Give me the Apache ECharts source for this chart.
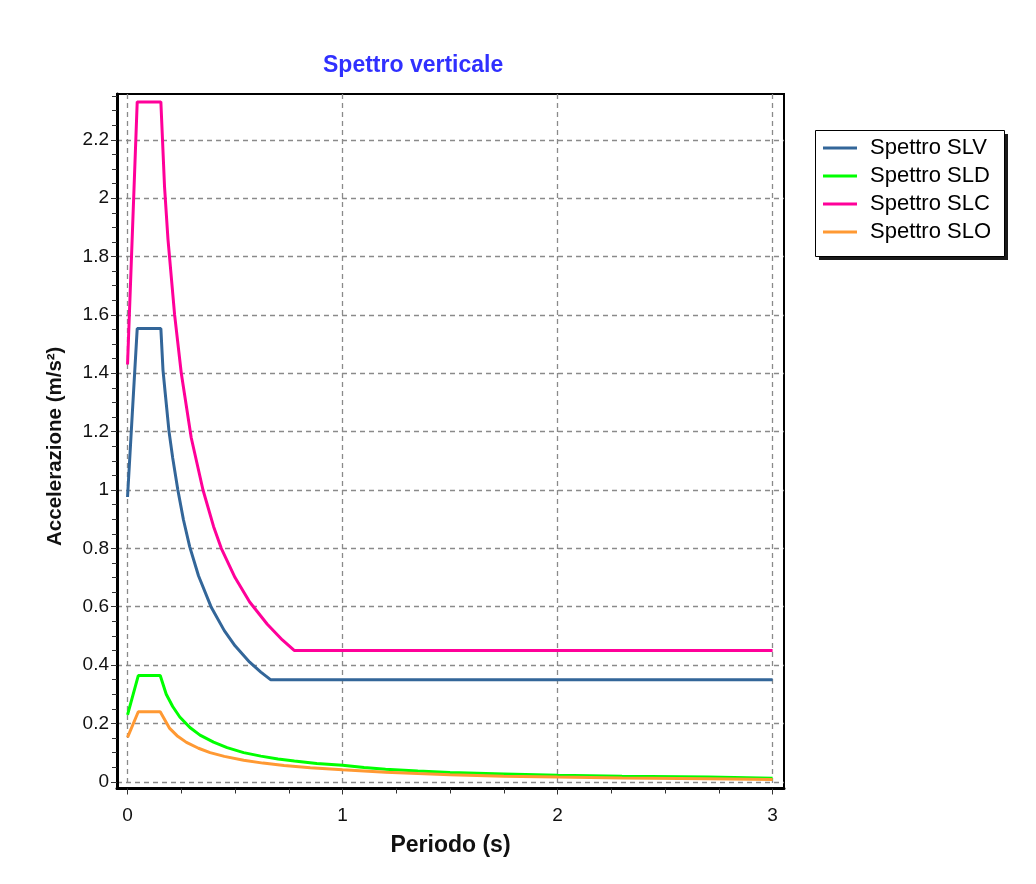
<!DOCTYPE html>
<html>
<head>
<meta charset="utf-8">
<script src="https://cdn.jsdelivr.net/npm/echarts@6/dist/echarts.min.js"></script>
<style>
html,body{margin:0;padding:0;background:#fff;}
#chart{width:1036px;height:884px;}
</style>
</head>
<body>
<div id="chart"></div>
<script>
// ---- data ----
const seriesNames = ['Spettro SLV', 'Spettro SLD', 'Spettro SLC', 'Spettro SLO'];

const slvT = [0, 0.022, 0.045, 0.155, 0.165, 0.175, 0.193, 0.21, 0.234, 0.26, 0.289, 0.33, 0.39, 0.45, 0.5, 0.568, 0.62, 0.665, 1.0, 2.0, 3.0];
const slvA = [0.976, 1.26, 1.553, 1.553, 1.41, 1.334, 1.20, 1.11, 1.0, 0.898, 0.806, 0.706, 0.597, 0.518, 0.466, 0.41, 0.376, 0.35, 0.35, 0.35, 0.35];

const sldT = [0, 0.05, 0.152, 0.18, 0.21, 0.243, 0.29, 0.337, 0.4, 0.463, 0.54, 0.62, 0.7, 0.776, 0.88, 1.0, 1.1, 1.2, 1.35, 1.5, 1.75, 2.0, 2.3, 2.7, 3.0];
const sldA = [0.229, 0.364, 0.364, 0.30, 0.258, 0.222, 0.186, 0.160, 0.136, 0.117, 0.10, 0.088, 0.078, 0.071, 0.063, 0.057, 0.049, 0.043, 0.037, 0.032, 0.027, 0.022, 0.019, 0.016, 0.012];

const slcT = [0, 0.045, 0.155, 0.172, 0.188, 0.219, 0.25, 0.296, 0.351, 0.4, 0.436, 0.5, 0.568, 0.65, 0.72, 0.775, 1.0, 2.0, 3.0];
const slcA = [1.43, 2.33, 2.33, 2.04, 1.86, 1.6, 1.4, 1.18, 1.0, 0.875, 0.80, 0.70, 0.616, 0.54, 0.486, 0.45, 0.45, 0.45, 0.45];

const sloT = [0, 0.05, 0.152, 0.196, 0.23, 0.274, 0.33, 0.384, 0.45, 0.54, 0.63, 0.728, 0.85, 1.0, 1.1, 1.2, 1.35, 1.5, 1.75, 2.0, 2.3, 2.7, 3.0];
const sloA = [0.152, 0.24, 0.24, 0.183, 0.158, 0.135, 0.115, 0.100, 0.087, 0.074, 0.064, 0.056, 0.048, 0.041, 0.037, 0.033, 0.028, 0.024, 0.019, 0.016, 0.013, 0.010, 0.008];

const xMajorTicks = [0, 1, 2, 3];
const xMinorTicks = [0.25, 0.5, 0.75, 1.25, 1.5, 1.75, 2.25, 2.5, 2.75];
const yMajorTicks = [0, 0.2, 0.4, 0.6, 0.8, 1, 1.2, 1.4, 1.6, 1.8, 2, 2.2];
const yMinorTicks = [0.05, 0.1, 0.15, 0.25, 0.3, 0.35, 0.45, 0.5, 0.55, 0.65, 0.7, 0.75, 0.85, 0.9, 0.95,
  1.05, 1.1, 1.15, 1.25, 1.3, 1.35, 1.45, 1.5, 1.55, 1.65, 1.7, 1.75, 1.85, 1.9, 1.95, 2.05, 2.1, 2.15, 2.25, 2.3, 2.35];

const colors = ['#336699', '#00ff00', '#ff0099', '#ff9933'];

// ---- chart ----
function pairs(t, a) { return t.map((v, i) => [v, a[i]]); }
const FONT = '"Liberation Sans", Arial, sans-serif';
const xMin = -0.049, xMax = 3.053, yMin = -0.023, yMax = 2.357;
const gridLine = { show: true, lineStyle: { color: '#8a8a8a', width: 1.3, type: [5, 4] } };

const chart = echarts.init(document.getElementById('chart'), null, { renderer: 'canvas' });
chart.setOption({
  animation: false,
  backgroundColor: '#fff',
  color: colors,
  title: {
    text: 'Spettro verticale',
    left: 323, top: 54, padding: 0,
    textStyle: { color: '#3030ff', fontSize: 23, fontWeight: 'bold', fontFamily: FONT }
  },
  graphic: [
    { type: 'rect', z: 0, shape: { x: 819, y: 134, width: 189, height: 126 }, style: { fill: '#1a1a1a' } },
    { type: 'rect', z: 1, shape: { x: 815.5, y: 130.5, width: 189, height: 126 }, style: { fill: '#fff', stroke: '#000', lineWidth: 1 } }
  ],
  legend: {
    orient: 'vertical', left: 823, top: 137, z: 10,
    padding: 0,
    itemWidth: 34, itemHeight: 3, itemGap: 6, icon: 'rect',
    textStyle: { fontSize: 22, color: '#000', fontFamily: FONT, lineHeight: 22, padding: [0, 0, 0, 8] },
    data: seriesNames
  },
  grid: {
    left: 117, top: 94, width: 667, height: 694.5,
    show: true, borderColor: '#000', borderWidth: 2, backgroundColor: '#fff'
  },
  xAxis: [
    {
      type: 'value', min: xMin, max: xMax, position: 'bottom',
      name: 'Periodo (s)', nameLocation: 'middle', nameGap: 46,
      nameTextStyle: { fontSize: 23, fontWeight: 'bold', color: '#111', fontFamily: FONT },
      axisLine: { show: true, onZero: false, lineStyle: { color: '#000', width: 3 } },
      axisTick: { show: true, customValues: xMajorTicks, length: 6, lineStyle: { color: '#333' } },
      axisLabel: { customValues: xMajorTicks, margin: 18, fontSize: 19, color: '#111', fontFamily: FONT },
      splitLine: gridLine
    },
    {
      type: 'value', min: xMin, max: xMax, position: 'bottom', offset: 0,
      axisLine: { show: false, onZero: false },
      axisTick: { show: true, customValues: xMinorTicks, length: 5, lineStyle: { color: '#333' } },
      axisLabel: { show: false },
      splitLine: { show: false }
    }
  ],
  yAxis: [
    {
      type: 'value', min: yMin, max: yMax, position: 'left',
      name: 'Accelerazione (m/s²)', nameLocation: 'middle', nameGap: 51,
      nameTextStyle: { fontSize: 20.5, fontWeight: 'bold', color: '#111', fontFamily: FONT, padding: [0, 10, 0, 0] },
      axisLine: { show: true, onZero: false, lineStyle: { color: '#000', width: 3 } },
      axisTick: { show: true, customValues: yMajorTicks, length: 6, lineStyle: { color: '#333' } },
      axisLabel: { customValues: yMajorTicks, margin: 8, fontSize: 19, color: '#111', fontFamily: FONT },
      splitLine: gridLine
    },
    {
      type: 'value', min: yMin, max: yMax, position: 'left', offset: 0,
      axisLine: { show: false, onZero: false },
      axisTick: { show: true, customValues: yMinorTicks, length: 5, lineStyle: { color: '#333' } },
      axisLabel: { show: false },
      splitLine: { show: false }
    }
  ],
  series: [
    { name: seriesNames[0], type: 'line', data: pairs(slvT, slvA) },
    { name: seriesNames[1], type: 'line', data: pairs(sldT, sldA) },
    { name: seriesNames[2], type: 'line', data: pairs(slcT, slcA) },
    { name: seriesNames[3], type: 'line', data: pairs(sloT, sloA) }
  ].map((s, i) => Object.assign(s, {
    xAxisIndex: 0, yAxisIndex: 0, showSymbol: false, symbol: 'none',
    lineStyle: { width: 3, color: colors[i] }, itemStyle: { color: colors[i] }
  }))
});
</script>
</body>
</html>
